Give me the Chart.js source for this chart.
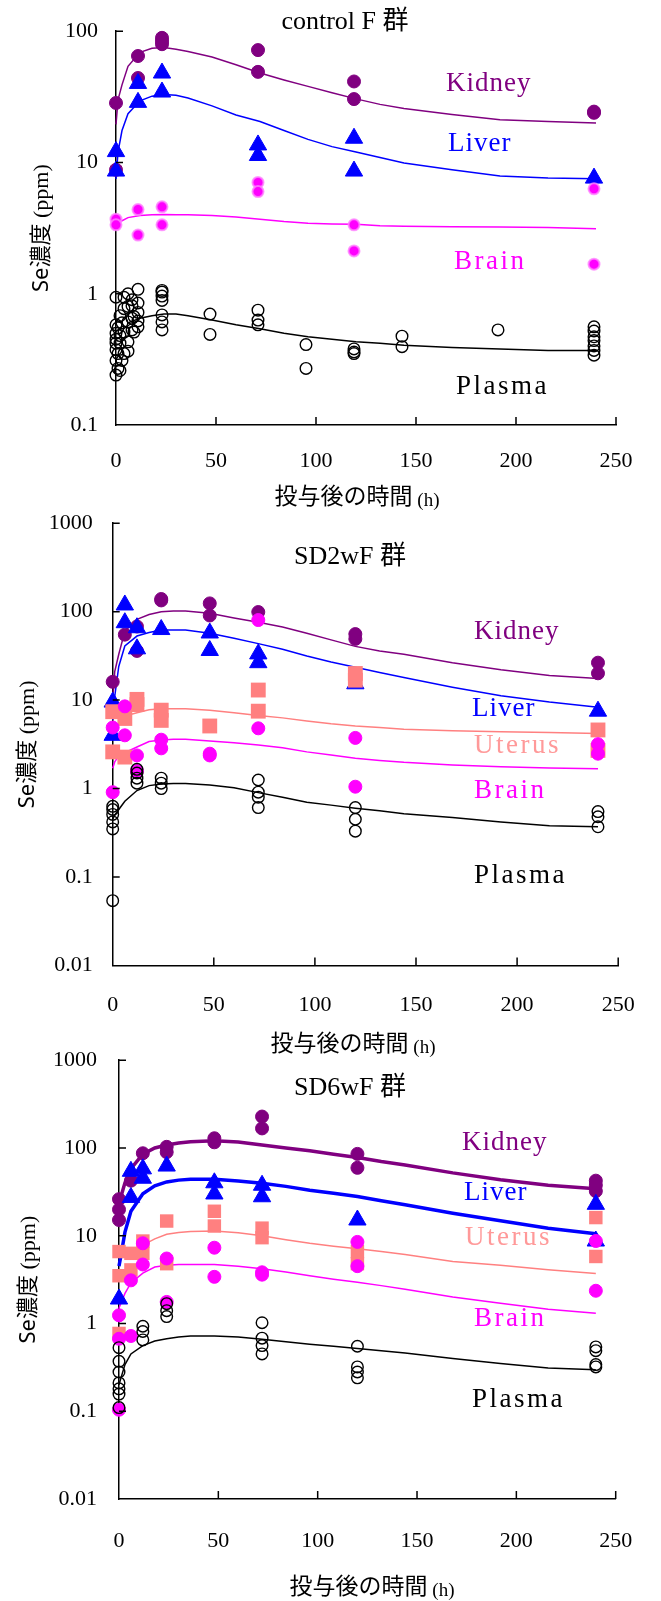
<!DOCTYPE html>
<html>
<head>
<meta charset="utf-8">
<script src="https://cdn.jsdelivr.net/npm/chart.js@4.4.1/dist/chart.umd.min.js"></script>
<style>
  body { margin: 0; background: #fff; width: 661px; height: 1601px; position: relative; overflow: hidden; }
  canvas { position: absolute; left: 0; }
</style>
</head>
<body>
<canvas id="chartF" width="661" height="512" style="top:0px"></canvas>
<canvas id="chartSD2" width="661" height="570" style="top:490px"></canvas>
<canvas id="chartSD6" width="661" height="576" style="top:1025px"></canvas>
<script>
// ejes
const xTicks = [0, 50, 100, 150, 200, 250];
const xTickLabels = ["0", "50", "100", "150", "200", "250"];
const yTicksF = [0.1, 1, 10, 100];
const yTickLabelsF = ["0.1", "1", "10", "100"];
const yTicksSD = [0.01, 0.1, 1, 10, 100, 1000];
const yTickLabelsSD = ["0.01", "0.1", "1", "10", "100", "1000"];

// tiempos de las curvas ajustadas (h)
const curveHours = [0, 1, 3, 6, 12, 18, 24, 30, 36, 48, 60, 72, 84, 96, 108, 120, 132, 144, 168, 192, 216, 240];

// control F 群 : [h, ppm]
const kidneyF = [[0,28.4],[0,8.8],[11,64.7],[11,44],[23,89],[23,84],[23,79.6],[71,71.8],[71,49],[119,41.4],[119,30.4],[239,24.4],[239,23.9]];
const liverF = [[0,12.1],[0,8.6],[11,40],[11,28.7],[23,48],[23,34.4],[71,13.6],[71,11.3],[119,15.3],[119,8.6],[239,7.6]];
const brainF = [[0,3.7],[0,3.35],[11,4.38],[11,2.8],[23,4.59],[23,3.35],[71,7.05],[71,6.0],[119,3.35],[119,2.12],[239,6.3],[239,1.68]];
const plasmaF = [[0,0.94],[0,0.58],[0,0.45],[0,0.375],[0,0.31],[0,0.24],[0,0.42],[0,0.5],
  [1,0.27],[1,0.55],[1,0.35],[2,0.68],[2,0.42],[2,0.26],[2,0.48],[3,0.31],[3,0.6],
  [4,0.94],[4,0.77],[4,0.51],[4,0.35],[6,1.0],[6,0.61],[6,0.43],[6,0.365],[6,0.8],
  [8,0.81],[8,0.53],[8,0.9],[8,0.65],[9,0.67],[9,0.51],[11,1.08],[11,0.56],[11,0.72],[11,0.85],[11,0.62],
  [23,1.06],[23,1.03],[23,0.96],[23,0.89],[23,0.69],[23,0.61],[23,0.53],[47,0.70],[47,0.49],
  [71,0.75],[71,0.63],[71,0.58],[95,0.41],[95,0.27],[119,0.38],[119,0.36],[119,0.35],
  [143,0.475],[143,0.395],[191,0.53],[239,0.56],[239,0.52],[239,0.47],[239,0.44],[239,0.40],[239,0.37],[239,0.34]];
const kidneyFitF = [19.5, 30, 39, 54, 69, 74, 75, 73, 70, 63.5, 55.5, 48, 42.5, 38, 34, 30.5, 27.7, 25.8, 23.2, 21.2, 20.5, 20];
const liverFitF = [7.5, 12, 17.5, 23.5, 29.5, 32, 33, 32.5, 31, 27, 23, 20.5, 17.5, 15, 13.2, 12, 10.9, 9.9, 8.8, 7.9, 7.6, 7.5];
const brainFitF = [3.27, 3.45, 3.6, 3.8, 3.95, 4.0, 4.02, 4.0, 4.0, 3.95, 3.85, 3.7, 3.55, 3.45, 3.4, 3.38, 3.3, 3.27, 3.24, 3.22, 3.2, 3.13];
const plasmaFitF = [null, null, null, 0.6, 0.65, 0.68, 0.70, 0.70, 0.68, 0.63, 0.58, 0.54, 0.50, 0.47, 0.45, 0.43, 0.42, 0.405, 0.39, 0.38, 0.37, 0.37];

// SD2wF 群
const kidneySD2 = [[0,16.1],[6,55],[12,68],[12,36],[24,139],[24,134],[48,124],[48,90.5],[72,99],[120,55.8],[120,49.2],[240,26.5],[240,20.1]];
const liverSD2 = [[0,4.0],[0,9.5],[6,119],[6,75],[12,65.8],[12,38],[24,62.8],[48,57.4],[48,36.4],[72,33.3],[72,26.5],[120,15.3],[240,7.5]];
const uterusSD2 = [[0,7.4],[0,2.6],[6,6.2],[6,2.27],[12,10.2],[12,8.9],[24,7.7],[24,5.9],[48,5.1],[72,13],[72,7.5],[120,20],[120,16.8],[240,4.6],[240,2.7]];
const brainSD2 = [[0,4.9],[0,0.91],[6,8.5],[6,4.0],[12,2.37],[12,1.58],[24,3.57],[24,2.85],[48,2.48],[48,2.37],[72,80.4],[72,4.8],[120,3.74],[120,1.05],[240,3.18],[240,2.48]];
const plasmaSD2 = [[0,0.63],[0,0.58],[0,0.51],[0,0.42],[0,0.35],[0,0.054],[12,1.65],[12,1.5],[12,1.31],[12,1.15],[24,1.31],[24,1.15],[24,1.0],
  [72,1.25],[72,0.91],[72,0.80],[72,0.61],[120,0.61],[120,0.45],[120,0.33],[240,0.55],[240,0.48],[240,0.37]];
const kidneyFitSD2 = [10, 21, 33, 60, 82, 93, 100, 102, 102, 96, 85, 76, 67, 57, 48, 40.5, 36, 33, 26.5, 22, 19, 17.6];
const liverFitSD2 = [6, 11, 24, 41, 53, 58, 62, 62, 62, 57, 50, 43.5, 37.5, 31.5, 27, 23.5, 20.5, 18, 14, 11.2, 9.5, 8.3];
const uterusFitSD2 = [6.3, 6.3, 6.4, 6.6, 7.2, 7.8, 8.0, 8.0, 8.0, 7.7, 7.2, 6.7, 6.3, 5.8, 5.4, 5.1, 4.9, 4.7, 4.5, 4.4, 4.3, 4.2];
const brainFitSD2 = [1.7, 2.0, 2.35, 2.55, 2.95, 3.4, 3.55, 3.6, 3.6, 3.45, 3.3, 3.1, 2.9, 2.6, 2.4, 2.2, 2.08, 1.98, 1.85, 1.76, 1.71, 1.68];
const plasmaFitSD2 = [0.45, 0.5, 0.58, 0.72, 0.95, 1.08, 1.13, 1.14, 1.14, 1.1, 1.02, 0.9, 0.8, 0.7, 0.65, 0.6, 0.56, 0.52, 0.47, 0.42, 0.38, 0.37];

// SD6wF 群
const kidneySD6 = [[0,26.1],[0,19.9],[0,15.1],[6,42.4],[12,87],[24,103],[24,89.6],[48,129],[48,116],[72,228],[72,167],[120,85.6],[120,59.4],[240,42.4],[240,37.6],[240,32.2]];
const liverSD6 = [[0,1.9],[6,54.2],[6,27.3],[12,57.8],[12,45.2],[24,62.2],[48,40.1],[48,29.9],[72,37.6],[72,27.8],[120,15.1],[240,22.8],[240,8.7]];
const uterusSD6 = [[0,6.6],[0,3.5],[0,0.77],[6,6.3],[6,4.08],[12,8.7],[12,6.3],[24,14.7],[24,4.8],[48,19],[48,12.9],[72,12.2],[72,9.5],[120,6.6],[120,4.8],[240,16.1],[240,5.8]];
const brainSD6 = [[0,1.24],[0,0.67],[0,0.104],[6,3.1],[6,0.72],[12,8.2],[12,4.7],[24,5.5],[24,1.76],[48,7.3],[48,3.4],[72,3.83],[72,3.6],[120,8.5],[120,4.5],[240,8.7],[240,2.36]];
const plasmaSD6 = [[0,0.53],[0,0.37],[0,0.28],[0,0.21],[0,0.18],[0,0.157],[0,0.11],[12,0.93],[12,0.81],[12,0.65],[24,1.68],[24,1.4],[24,1.2],
  [72,1.02],[72,0.68],[72,0.56],[72,0.45],[120,0.55],[120,0.32],[120,0.28],[120,0.24],[240,0.54],[240,0.49],[240,0.34],[240,0.32]];
const kidneyFitSD6 = [22.8, 28, 40, 58, 85, 100, 108, 114, 118, 121, 117, 108, 100, 93, 85, 78, 70, 64, 52, 43.5, 37.5, 34.3];
const liverFitSD6 = [4.5, 6, 11, 19, 30, 37, 41, 43, 44, 44, 42, 39.5, 36.5, 33, 30.5, 28, 25, 22.5, 18, 14.8, 12.2, 10.5];
const uterusFitSD6 = [5.8, 6.0, 6.2, 6.5, 7.8, 9.2, 10.4, 10.9, 11.2, 11.3, 10.8, 10.0, 9.0, 8.2, 7.6, 7.1, 6.6, 6.1, 5.1, 4.6, 4.1, 3.7];
const brainFitSD6 = [1.5, 1.7, 2.2, 2.9, 3.75, 4.4, 4.6, 4.7, 4.7, 4.7, 4.5, 4.2, 3.85, 3.5, 3.2, 2.95, 2.7, 2.45, 2.0, 1.7, 1.45, 1.31];
const plasmaFitSD6 = [0.2, 0.24, 0.34, 0.45, 0.56, 0.63, 0.67, 0.7, 0.72, 0.72, 0.7, 0.66, 0.62, 0.58, 0.55, 0.52, 0.49, 0.46, 0.4, 0.35, 0.31, 0.297];

const PURPLE = "#800080", BLUE = "#0000ff", MAGENTA = "#ff00ff", SALMON = "#ff8080", BLACK = "#000";
const SERIF = "'Liberation Serif', 'Noto Sans CJK JP', serif";
const CJK = "'Noto Sans CJK JP', sans-serif";

const toPts = arr => arr.map(([x, y]) => ({ x, y }));
const fit = vals => curveHours.map((x, i) => ({ x, y: vals[i] })).filter(p => p.y !== null);

function points(data, style) {
    return { data: toPts(data), showLine: false, clip: false, ...style };
}
function curve(vals, color, width) {
    return { data: fit(vals), showLine: true, pointRadius: 0, borderColor: color, borderWidth: width, tension: 0, clip: false };
}

const kidneyStyle = { pointStyle: "circle", pointRadius: 6.5, backgroundColor: PURPLE, borderColor: PURPLE, borderWidth: 1 };
const liverStyle = { pointStyle: "triangle", pointRadius: 10, backgroundColor: BLUE, borderColor: BLUE, borderWidth: 1 };
const uterusStyle = { pointStyle: "rect", pointRadius: 10.5, backgroundColor: SALMON, borderColor: SALMON, borderWidth: 0 };
const brainStyle = { pointStyle: "circle", pointRadius: 6.5, backgroundColor: MAGENTA, borderColor: MAGENTA, borderWidth: 1 };
const brainStyleF = { pointStyle: "circle", pointRadius: 5.5, backgroundColor: MAGENTA, borderColor: "rgba(255,130,255,0.8)", borderWidth: 2 };
const plasmaStyle = { pointStyle: "circle", pointRadius: 5.8, backgroundColor: "rgba(0,0,0,0)", borderColor: BLACK, borderWidth: 1.4 };

// marcas de graduación hacia dentro
const inwardTicks = {
    id: "inwardTicks",
    afterDraw(chart) {
        const { ctx, chartArea: a, scales: { x, y } } = chart;
        ctx.save();
        ctx.strokeStyle = BLACK;
        ctx.lineWidth = 1.5;
        ctx.beginPath();
        x.ticks.forEach(t => {
            if (t.value === x.min) return;
            const px = x.getPixelForValue(t.value);
            ctx.moveTo(px, a.bottom); ctx.lineTo(px, a.bottom - 8);
        });
        y.ticks.forEach(t => {
            if (t.value === y.min) return;
            const py = y.getPixelForValue(t.value);
            ctx.moveTo(a.left, py); ctx.lineTo(a.left + 7, py);
        });
        ctx.stroke();
        ctx.restore();
    }
};

function drawParts(ctx, parts, cx, cy) {
    let total = 0;
    parts.forEach(p => { ctx.font = p.font; total += ctx.measureText(p.t).width; });
    let x = cx - total / 2;
    parts.forEach(p => {
        ctx.font = p.font;
        ctx.fillText(p.t, x, cy + (p.dy || 0));
        x += ctx.measureText(p.t).width;
    });
}

// textos: título, etiquetas de series y títulos de ejes
const panelText = {
    id: "panelText",
    afterDraw(chart, args, opts) {
        const { ctx, chartArea: a } = chart;
        const top = opts.top;
        ctx.save();
        ctx.textBaseline = "alphabetic";
        ctx.fillStyle = BLACK;
        ctx.font = `26px ${SERIF}`;
        ctx.textAlign = "center";
        ctx.fillText(opts.title, opts.titleX, opts.titleY - top + 9);

        ctx.textAlign = "left";
        opts.labels.forEach(l => {
            ctx.fillStyle = l.color;
            ctx.font = `27px ${SERIF}`;
            ctx.letterSpacing = (l.spacing || 1) + "px";
            ctx.fillText(l.text, l.x, l.y - top + 9);
        });
        ctx.letterSpacing = "0px";

        ctx.fillStyle = BLACK;
        drawParts(ctx, [
            { t: "投与後の時間", font: `23px ${CJK}` },
            { t: " (h)", font: `19px ${SERIF}`, dy: 2 }
        ], opts.xTitleX, opts.xTitleY - top + 8);

        ctx.translate(opts.yTitleX, (a.top + a.bottom) / 2);
        ctx.rotate(-Math.PI / 2);
        drawParts(ctx, [
            { t: "Se", font: `22px 'Noto Sans', sans-serif` },
            { t: "濃度", font: `22px ${CJK}` },
            { t: " (ppm)", font: `22px ${SERIF}` }
        ], 0, 8);
        ctx.restore();
    }
};

function makeChart(id, cfg) {
    const tickFont = { family: SERIF, size: 22 };
    return new Chart(document.getElementById(id), {
        type: "scatter",
        data: { datasets: cfg.datasets },
        options: {
            responsive: false,
            animation: false,
            events: [],
            layout: { padding: { top: cfg.padTop, right: cfg.padRight, left: 0, bottom: 0 } },
            plugins: {
                legend: { display: false },
                tooltip: { enabled: false },
                panelText: cfg.text
            },
            scales: {
                x: {
                    type: "linear", min: 0, max: 250,
                    afterBuildTicks: s => { s.ticks = xTicks.map(v => ({ value: v })); },
                    afterFit: s => { s.height = cfg.xHeight; },
                    grid: { display: false, drawTicks: false },
                    border: { color: BLACK, width: 1.5 },
                    ticks: { padding: cfg.xPad, color: BLACK, font: tickFont, maxRotation: 0, autoSkip: false,
                             callback: v => xTickLabels[xTicks.indexOf(v)] }
                },
                y: {
                    type: "logarithmic", min: cfg.yTicks[0], max: cfg.yTicks[cfg.yTicks.length - 1],
                    afterBuildTicks: s => { s.ticks = cfg.yTicks.map(v => ({ value: v })); },
                    afterFit: s => { s.width = cfg.yWidth; },
                    grid: { display: false, drawTicks: false },
                    border: { color: BLACK, width: 1.5 },
                    ticks: { padding: cfg.yPad, color: BLACK, font: tickFont, autoSkip: false,
                             callback: v => cfg.yLabels[cfg.yTicks.indexOf(v)] }
                }
            }
        },
        plugins: [inwardTicks, panelText]
    });
}

makeChart("chartF", {
    padTop: 23.3, padRight: 45, xHeight: 87, yWidth: 116, xPad: 23.5, yPad: 18,
    yTicks: yTicksF, yLabels: yTickLabelsF,
    datasets: [
        points(plasmaF, plasmaStyle),
        points(brainF, brainStyleF),
        points(liverF, liverStyle),
        points(kidneyF, kidneyStyle),
        curve(plasmaFitF, BLACK, 1.5),
        curve(brainFitF, MAGENTA, 1.5),
        curve(liverFitF, BLUE, 1.5),
        curve(kidneyFitF, PURPLE, 1.5)
    ],
    text: {
        top: 0, title: "control F 群", titleX: 345, titleY: 20,
        xTitleX: 357, xTitleY: 496, yTitleX: 40,
        labels: [
            { text: "Kidney", x: 446, y: 82, color: PURPLE },
            { text: "Liver", x: 448, y: 142, color: BLUE },
            { text: "Brain", x: 454, y: 260, color: MAGENTA, spacing: 2.5 },
            { text: "Plasma", x: 456, y: 385, color: BLACK, spacing: 2.5 }
        ]
    }
});

makeChart("chartSD2", {
    padTop: 23.5, padRight: 35, xHeight: 94.5, yWidth: 112.7, xPad: 26.3, yPad: 20,
    yTicks: yTicksSD, yLabels: yTickLabelsSD,
    datasets: [
        points(plasmaSD2, plasmaStyle),
        points(brainSD2, brainStyle),
        points(uterusSD2, uterusStyle),
        points(liverSD2, liverStyle),
        points(kidneySD2, kidneyStyle),
        curve(plasmaFitSD2, BLACK, 1.5),
        curve(brainFitSD2, MAGENTA, 1.5),
        curve(uterusFitSD2, SALMON, 1.5),
        curve(liverFitSD2, BLUE, 1.5),
        curve(kidneyFitSD2, PURPLE, 1.5)
    ],
    text: {
        top: 490, title: "SD2wF 群", titleX: 350, titleY: 555,
        xTitleX: 353, xTitleY: 1043, yTitleX: 26,
        labels: [
            { text: "Kidney", x: 474, y: 630, color: PURPLE },
            { text: "Liver", x: 472, y: 707, color: BLUE },
            { text: "Uterus", x: 474, y: 744, color: "#ff9999", spacing: 2.5 },
            { text: "Brain", x: 474, y: 789, color: MAGENTA, spacing: 2.5 },
            { text: "Plasma", x: 474, y: 874, color: BLACK, spacing: 2.5 }
        ]
    }
});

makeChart("chartSD6", {
    padTop: 24, padRight: 28.5, xHeight: 102, yWidth: 119, xPad: 28.8, yPad: 22,
    yTicks: yTicksSD, yLabels: yTickLabelsSD,
    datasets: [
        points(plasmaSD6, plasmaStyle),
        points(brainSD6, brainStyle),
        points(uterusSD6, { ...uterusStyle, pointRadius: 9.5 }),
        points(liverSD6, liverStyle),
        points(kidneySD6, kidneyStyle),
        curve(plasmaFitSD6, BLACK, 1.5),
        curve(brainFitSD6, MAGENTA, 1.5),
        curve(uterusFitSD6, SALMON, 1.5),
        curve(liverFitSD6, BLUE, 3.5),
        curve(kidneyFitSD6, PURPLE, 3.5)
    ],
    text: {
        top: 1025, title: "SD6wF 群", titleX: 350, titleY: 1086,
        xTitleX: 372, xTitleY: 1586, yTitleX: 27,
        labels: [
            { text: "Kidney", x: 462, y: 1141, color: PURPLE },
            { text: "Liver", x: 464, y: 1191, color: BLUE },
            { text: "Uterus", x: 465, y: 1236, color: "#ff9999", spacing: 2.5 },
            { text: "Brain", x: 474, y: 1317, color: MAGENTA, spacing: 2.5 },
            { text: "Plasma", x: 472, y: 1398, color: BLACK, spacing: 2.5 }
        ]
    }
});
</script>
</body>
</html>
